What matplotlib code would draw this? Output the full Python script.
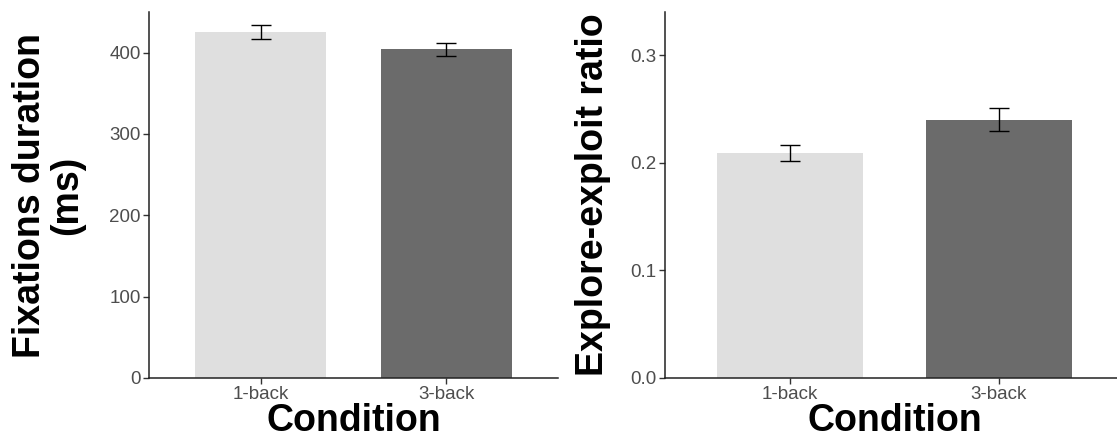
import matplotlib
matplotlib.use("Agg")
import matplotlib.pyplot as plt

plt.rcParams['font.family'] = ['Liberation Sans', 'DejaVu Sans']

conditions = ["1-back", "3-back"]
fix_mean = [425, 404]
fix_se = [8.7, 8.5]
ratio_mean = [0.209, 0.240]
ratio_se = [0.0075, 0.0105]
bar_colors = ["#DFDFDF", "#6B6B6B"]

fig = plt.figure(figsize=(11.17, 4.37), dpi=100)
ax1 = fig.add_axes([149/1117, 59/437, 409/1117, 366/437])
ax2 = fig.add_axes([665/1117, 59/437, 459/1117, 366/437])

def style(ax, ylim, yticks, ylabels, ylabel, pad):
    x = [1, 2]
    ax.set_xlim(0.4, 2.6)
    ax.set_ylim(*ylim)
    ax.set_xticks(x)
    ax.set_xticklabels(conditions)
    ax.set_yticks(yticks)
    ax.set_yticklabels(ylabels)
    for s in ["top", "right"]:
        ax.spines[s].set_visible(False)
    for s in ["left", "bottom"]:
        ax.spines[s].set_linewidth(1.1)
        ax.spines[s].set_color("#222222")
    ax.tick_params(axis="both", labelsize=13.5, labelcolor="#4D4D4D", color="#333333",
                   length=4, width=1, pad=2)
    ax.set_xlabel("Condition", fontsize=27, fontweight="bold", labelpad=0)
    ax.set_ylabel(ylabel, fontsize=27, fontweight="bold", labelpad=pad, linespacing=1.05)

def draw(ax, means, ses):
    x = [1, 2]
    ax.bar(x, means, width=0.7, color=bar_colors, zorder=2)
    ax.errorbar(x, means, yerr=ses, fmt="none", ecolor="black", elinewidth=1,
                capsize=7, capthick=1, zorder=3)

style(ax1, (0, 450), [0, 100, 200, 300, 400], ["0", "100", "200", "300", "400"],
      "Fixations duration\n(ms)", 17)
draw(ax1, fix_mean, fix_se)
style(ax2, (0, 0.34), [0.0, 0.1, 0.2, 0.3], ["0.0", "0.1", "0.2", "0.3"],
      "Explore-exploit ratio", 14)
draw(ax2, ratio_mean, ratio_se)

fig.savefig("out.png", dpi=100)
